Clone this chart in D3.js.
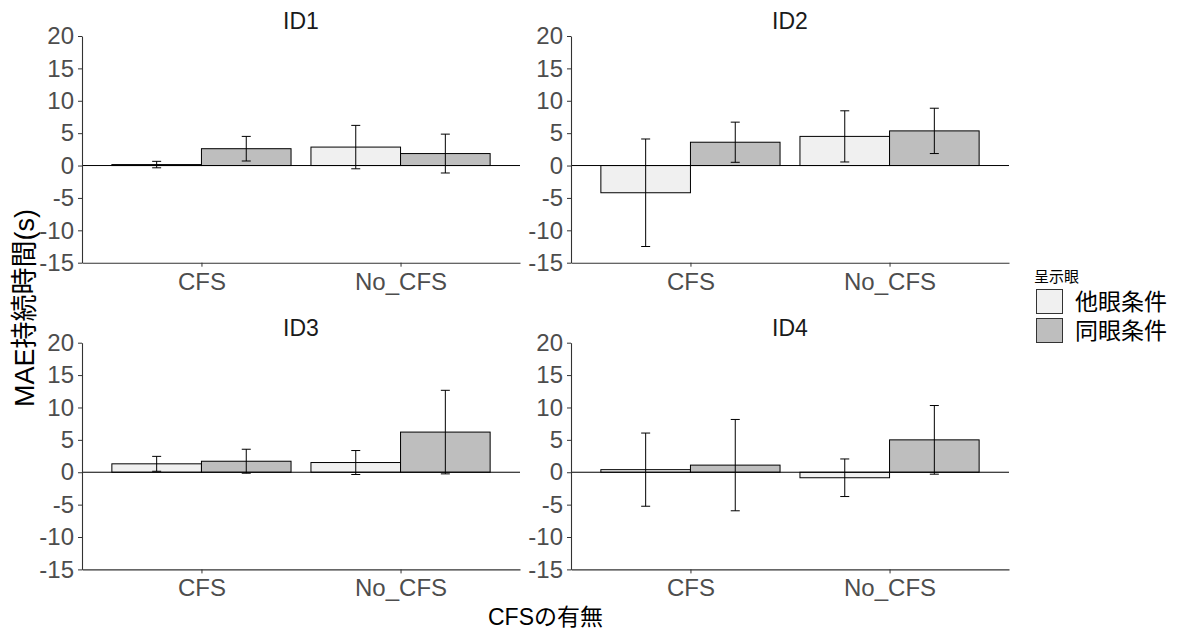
<!DOCTYPE html>
<html>
<head>
<meta charset="utf-8">
<script src="https://cdn.jsdelivr.net/npm/d3@7"></script>
<style>
  body { margin: 0; background: #fff; }
  text { font-family: "Liberation Sans", Arial, "Noto Sans CJK JP", sans-serif; }
</style>
</head>
<body>
<div id="chart"></div>
<script>
// data, [panel][category]
const panels = ['ID1', 'ID2', 'ID3', 'ID4'];
const categories = ['CFS', 'No_CFS'];
const conditions = ['他眼条件', '同眼条件'];
const otherMean = [[0.15, 2.85], [-4.2, 4.5], [1.3, 1.5], [0.4, -0.85]];
const otherErr  = [[0.5, 3.35], [8.3, 3.95], [1.15, 1.85], [5.65, 2.9]];
const sameMean  = [[2.6, 1.85], [3.6, 5.35], [1.7, 6.2], [1.1, 5.0]];
const sameErr   = [[1.9, 3.0], [3.1, 3.5], [1.85, 6.45], [7.05, 5.3]];
const yTicks = [-15, -10, -5, 0, 5, 10, 15, 20];

const W = 1182, H = 629;
const panelW = 438, panelH = 226.7;
const colX = [82, 571], rowY = [36, 342.7];
const fills = ['#f0f0f0', '#bebebe'];

const svg = d3.select('#chart').append('svg')
  .attr('width', W).attr('height', H);

const x = d3.scalePoint().domain(categories).range([0, panelW]).padding(0.6);
const step = x.step();
const xDodge = d3.scaleBand().domain(conditions).range([-0.45 * step, 0.45 * step]);
const y = d3.scaleLinear().domain([-15, 20]).range([panelH, 0]);

panels.forEach((id, p) => {
  const g = svg.append('g')
    .attr('transform', 'translate(' + colX[p % 2] + ',' + rowY[Math.floor(p / 2)] + ')');

  g.append('text')
    .attr('x', panelW / 2).attr('y', -7)
    .attr('text-anchor', 'middle')
    .style('font-size', '23px').attr('fill', '#1a1a1a')
    .text(id);

  let rows = [];
  categories.forEach((c, i) => {
    rows.push({ cat: c, cond: conditions[0], m: otherMean[p][i], e: otherErr[p][i] });
    rows.push({ cat: c, cond: conditions[1], m: sameMean[p][i], e: sameErr[p][i] });
  });

  g.selectAll('rect.bar').data(rows).enter().append('rect')
    .attr('class', 'bar')
    .attr('x', (d) => x(d.cat) + xDodge(d.cond))
    .attr('width', xDodge.bandwidth())
    .attr('y', (d) => y(Math.max(0, d.m)))
    .attr('height', (d) => Math.abs(y(d.m) - y(0)))
    .attr('fill', (d) => fills[conditions.indexOf(d.cond)])
    .attr('stroke', '#000').attr('stroke-width', 1);

  g.append('line')
    .attr('x1', 0).attr('x2', panelW)
    .attr('y1', y(0)).attr('y2', y(0))
    .attr('stroke', '#000').attr('stroke-width', 1);

  const eb = g.selectAll('g.err').data(rows).enter().append('g')
    .attr('class', 'err')
    .attr('transform', (d) => 'translate(' + (x(d.cat) + xDodge(d.cond) + xDodge.bandwidth() / 2) + ',0)')
    .attr('stroke', '#000').attr('stroke-width', 1);
  eb.append('line').attr('y1', (d) => y(d.m + d.e)).attr('y2', (d) => y(d.m - d.e));
  eb.append('line').attr('x1', -4.5).attr('x2', 4.5)
    .attr('y1', (d) => y(d.m + d.e)).attr('y2', (d) => y(d.m + d.e));
  eb.append('line').attr('x1', -4.5).attr('x2', 4.5)
    .attr('y1', (d) => y(d.m - d.e)).attr('y2', (d) => y(d.m - d.e));

  const ya = g.append('g')
    .call(d3.axisLeft(y).tickValues(yTicks).tickFormat((d) => String(d))
      .tickSize(4).tickSizeOuter(0).tickPadding(4));
  const xa = g.append('g')
    .attr('transform', 'translate(0,' + panelH + ')')
    .call(d3.axisBottom(x).tickSize(4).tickSizeOuter(0).tickPadding(6));
  [ya, xa].forEach((a) => {
    a.select('.domain').attr('stroke', '#333').attr('stroke-width', 1.1);
    a.selectAll('.tick line').attr('stroke', '#333');
    a.selectAll('.tick text').attr('fill', '#4d4d4d').style('font-size', '24px');
  });
});

// axis titles
svg.append('text')
  .attr('transform', 'translate(34,308) rotate(-90)')
  .attr('text-anchor', 'middle')
  .style('font-size', '27px').attr('fill', '#000')
  .text('MAE持続時間(s)');
svg.append('text')
  .attr('x', (colX[0] + colX[1] + panelW) / 2).attr('y', 625)
  .attr('text-anchor', 'middle')
  .style('font-size', '23px').attr('fill', '#000')
  .text('CFSの有無');

// legend
const lg = svg.append('g').attr('transform', 'translate(1036,282)');
lg.append('text').attr('x', -2).attr('y', 0)
  .style('font-size', '15px').attr('fill', '#000')
  .text('呈示眼');
conditions.forEach((c, i) => {
  lg.append('rect')
    .attr('x', 0.5).attr('y', 7.5 + i * 29)
    .attr('width', 26).attr('height', 24)
    .attr('fill', fills[i]).attr('stroke', '#333').attr('stroke-width', 1);
  lg.append('text')
    .attr('x', 39).attr('y', 19.5 + i * 29).attr('dy', '0.35em')
    .style('font-size', '23px').attr('fill', '#000')
    .text(c);
});
</script>
</body>
</html>
